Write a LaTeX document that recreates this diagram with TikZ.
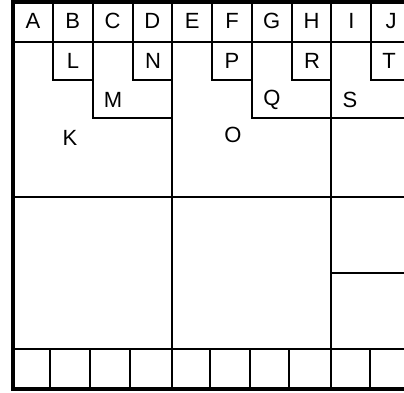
\documentclass[tikz,border=0pt]{standalone}
\usepackage{fontspec}
\setmainfont{Liberation Sans}
\usepackage{tikz}

\begin{document}
\begin{tikzpicture}[x=1pt, y=-1pt, line width=2.6pt, line join=miter,
    letter/.style={font=\fontsize{22}{22}\selectfont, inner sep=0pt}]
    \useasboundingbox (0,0) rectangle (404,392);

    % Outer frame (open on the right)
    \draw[line width=3.2pt] (404,2) -- (13,2) -- (13,389) -- (404,389);

    % Top row of letters
    \draw (13,42) -- (404,42);
    \foreach \lab [count=\i from 0] in {A,B,C,D,E,F,G,H,I,J} {
        \pgfmathsetmacro{\x}{33+39.8*\i}
        \node[letter] (\lab) at (\x,21) {\lab};
    }
    \foreach \x in {53, 93, 133, 212, 252, 292, 371} {
        \draw (\x,2) -- (\x,42);
    }

    % Long dividers
    \draw (172,2) -- (172,389);
    \draw (331,2) -- (331,389);
    \draw (13,197) -- (404,197);
    \draw (13,349) -- (404,349);
    \draw (331,273) -- (404,273);

    % Steps under the top row
    \draw (53,42) -- (53,80) -- (93,80);
    \draw (93,42) -- (93,118) -- (172,118);
    \draw (133,42) -- (133,80) -- (172,80);
    \draw (212,42) -- (212,80) -- (252,80);
    \draw (252,42) -- (252,118) -- (404,118);
    \draw (292,42) -- (292,80) -- (331,80);
    \draw (371,42) -- (371,80) -- (404,80);

    % Bottom row of cells
    \foreach \x in {50, 90, 130, 210, 250, 289, 370} {
        \draw (\x,349) -- (\x,389);
    }

    % Region letters
    \node[letter] (L) at (73,61) {L};
    \node[letter] (N) at (153,61) {N};
    \node[letter] (P) at (232,61) {P};
    \node[letter] (R) at (312,61) {R};
    \node[letter] (T) at (389,61) {T};
    \node[letter] (M) at (113,100) {M};
    \node[letter] (Q) at (272,100) {Q};
    \node[letter] (S) at (350,100) {S};
    \node[letter] (K) at (70,138) {K};
    \node[letter] (O) at (233,135) {O};
\end{tikzpicture}
\end{document}
